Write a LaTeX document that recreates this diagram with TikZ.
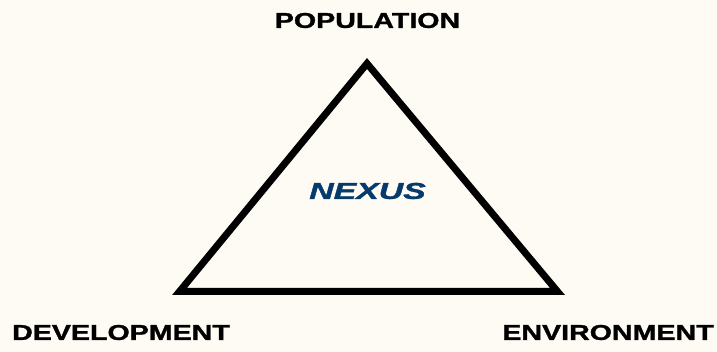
\documentclass[tikz,border=0pt]{standalone}
\usepackage{fontspec}
\setmainfont{Liberation Sans}[BoldFeatures={FakeBold=1.2},BoldItalicFeatures={FakeBold=1.2}]
\usepackage{tikz}
\usetikzlibrary{calc}

\definecolor{paper}{RGB}{254,251,244}
\definecolor{nexusblue}{RGB}{4,58,108}

\tikzset{
  Corner/.style={font=\fontsize{21.5}{25}\bfseries\selectfont,xscale=1.33,transform shape,inner sep=0pt},
  Centre/.style={font=\fontsize{23}{27}\bfseries\itshape\selectfont,text=nexusblue,xscale=1.47,transform shape,inner sep=0pt}
}

\begin{document}
\begin{tikzpicture}[x=1pt,y=1pt]
            \fill[paper] (0,0) rectangle (717,352);
            \useasboundingbox (0,0) rectangle (717,352);

            \coordinate (top) at (367,288.5);
            \coordinate (left) at (179.5,60.5);
            \coordinate (right) at (557.5,60.5);

            \draw[line width=7pt,miter limit=10] (top) -- (left) -- (right) -- cycle;

            \node[Corner] (population) at (367.5,331.5) {POPULATION};
            \node[Corner] (development) at (121,19.5) {DEVELOPMENT};
            \node[Corner] (environment) at (608,19.5) {ENVIRONMENT};
            \node[Centre] (nexus) at (367.5,161) {NEXUS};
          \end{tikzpicture}
\end{document}
